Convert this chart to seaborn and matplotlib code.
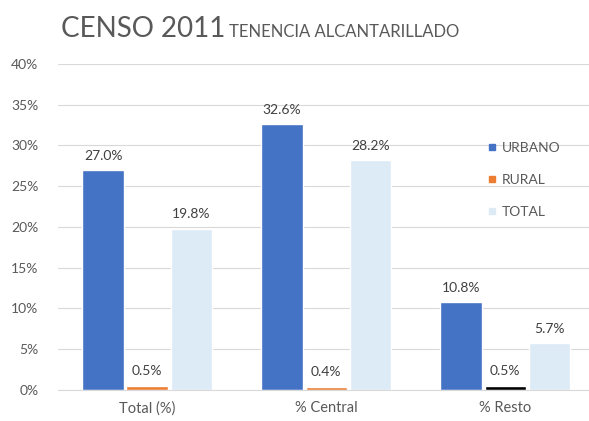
import matplotlib
matplotlib.use("Agg")
import matplotlib.pyplot as plt
import matplotlib.lines as mlines
import pandas as pd
import seaborn as sns
from matplotlib.ticker import FuncFormatter

# =========================
# DATA
# =========================
categories = ["Total (%)", "% Central", "% Resto"]
series = ["URBANO", "RURAL", "TOTAL"]
urbano = [27.0, 32.6, 10.8]
rural = [0.5, 0.4, 0.5]
total = [19.8, 28.2, 5.7]
yticks = [0, 5, 10, 15, 20, 25, 30, 35, 40]

colors = {"URBANO": "#4472C4", "RURAL": "#ED7D31", "TOTAL": "#DDEBF7"}
text_color = "#595959"

df = pd.DataFrame({
    "categoria": categories * 3,
    "serie": [s for s in series for _ in categories],
    "valor": urbano + rural + total,
})

# =========================
# PLOT
# =========================
sns.set_style("white")
plt.rcParams["font.family"] = ["Lato", "DejaVu Sans"]

fig = plt.figure(figsize=(5.89, 4.21), dpi=100)
ax = fig.add_axes([0.098, 0.074, 0.912, 0.774])

sns.barplot(data=df, x="categoria", y="valor", hue="serie", order=categories,
            hue_order=series, palette=colors, width=0.74, gap=0.06,
            saturation=1, ax=ax, legend=False)

# rural bar in "% Resto" is drawn black in the original
ax.containers[1][2].set_facecolor("black")

for cont, vals in zip(ax.containers, [urbano, rural, total]):
    ax.bar_label(cont, labels=[f"{v:.1f}%" for v in vals], padding=6,
                 fontsize=10, color="#404040")

ax.set_xlim(-0.5, 2.5)
ax.set_ylim(0, 40)
ax.set_yticks(yticks)
ax.yaxis.set_major_formatter(FuncFormatter(lambda v, p: f"{v:.0f}%"))
ax.grid(axis="y", color="#D9D9D9", lw=0.8)
ax.set_axisbelow(True)
ax.set_xlabel("")
ax.set_ylabel("")

for side in ["top", "right", "left"]:
    ax.spines[side].set_visible(False)
ax.spines["bottom"].set_color("#D9D9D9")

ax.tick_params(axis="x", length=0, colors=text_color, labelsize=10.5, pad=8)
ax.tick_params(axis="y", length=0, colors=text_color, labelsize=10, pad=14)
ax.set_xticks([0.5, 1.5, 2.5], minor=True)
ax.tick_params(axis="x", which="minor", length=5, color="#D9D9D9")

handles = [mlines.Line2D([], [], marker="s", ls="", markersize=5,
                         color=colors[s], label=s) for s in series]
ax.legend(handles=handles, loc="center left", bbox_to_anchor=(0.775, 0.645),
          frameon=False, labelspacing=1.45, handletextpad=0.3,
          handlelength=0.8, fontsize=10, labelcolor=text_color)

# title
fig.text(0.103, 0.912, "CENSO 2011", fontsize=20, color=text_color, va="baseline")
fig.text(0.388, 0.912, "TENENCIA ALCANTARILLADO", fontsize=12,
         color=text_color, va="baseline")

fig.savefig("out.png", dpi=100)
plt.close()
